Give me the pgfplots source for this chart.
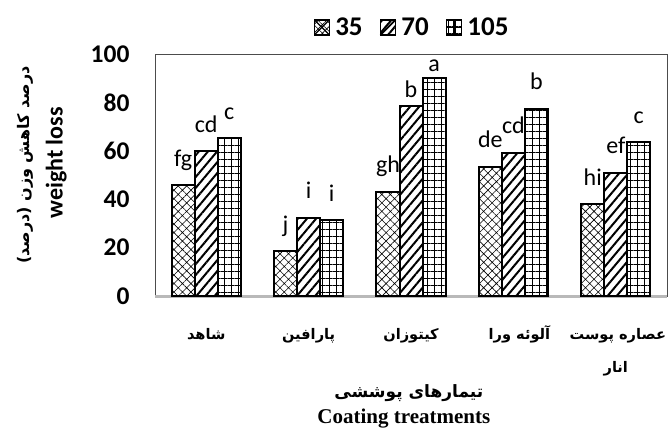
\documentclass[border=0pt]{standalone}
\usepackage{pgfplots}
\pgfplotsset{compat=1.18}
\usetikzlibrary{patterns.meta}
\usepackage{fontspec}
\setmainfont{Carlito}
\newfontfamily\arabicfont[Script=Arabic]{DejaVu Sans}
\newfontfamily\seriffont{Liberation Serif}
\TeXXeTstate=1
\newcommand{\st}{\rule{0pt}{17pt}}
\begin{document}
\begin{tikzpicture}
\useasboundingbox (0,0) rectangle (669pt,432pt);
\begin{axis}[
  at={(155pt,136pt)}, anchor=south west,
  scale only axis, width=512pt, height=242pt,
  clip=false,
  xmin=-0.5, xmax=4.5, ymin=0, ymax=100,
  ytick={0,20,...,100},
  xtick={0,1,2,3,4},
  xticklabels={
    {\st\hbox{\beginR شاهد\endR}},
    {\st\hbox{\beginR پارافین\endR}},
    {\st\hbox{\beginR کیتوزان\endR}},
    {\st\kern12pt\hbox{\beginR آلوئه ورا\endR}},
    {\begin{tabular}{@{}c@{}}\st\kern4pt\hbox{\beginR عصاره پوست\endR}\\[13pt]\hbox{\beginR انار\endR}\end{tabular}}},
  major tick length=0pt,
  axis line style={draw=black!70, line width=0.8pt},
  ybar=0pt, bar width=23pt,
  /pgf/number format/assume math mode=true,
  yticklabel style={font=\bfseries\fontsize{25.5}{25}\selectfont, anchor=east, xshift=-22pt},
  xticklabel style={font=\arabicfont\bfseries\fontsize{14.6}{20}\selectfont, anchor=north, inner sep=2pt, yshift=-24pt},
  xlabel={\seriffont\bfseries\fontsize{21}{22}\selectfont Coating treatments},
  xlabel style={at={(rel axis cs:0.486,-0.508)}, anchor=center},
  ylabel={\bfseries\fontsize{24}{24}\selectfont weight loss},
  ylabel style={at={(rel axis cs:-0.193,0.55)}, anchor=center},
  nodes near coords,
  point meta=explicit symbolic,
  nodes near coords style={font=\fontsize{24}{24}\selectfont, anchor=base, yshift=19pt, inner sep=1pt},
  legend style={at={(rel axis cs:0.505,1.11)}, anchor=center, legend columns=3, draw=none, fill=none,
    font=\bfseries\fontsize{27}{27}\selectfont, nodes={inner ysep=2pt, inner xsep=5pt},
    /tikz/every even column/.style={column sep=12pt}},
]
\draw[gray!55, line width=3pt] (rel axis cs:0,0) -- (rel axis cs:1,0);
\addplot[draw=black, line width=2pt, pattern={Hatch[angle=45,distance=6pt,line width=0.6pt]}, pattern color=black,
  legend image code/.code={\draw[line width=1.6pt] (0pt,-7.5pt) rectangle (15pt,7.5pt); \draw[line width=1.2pt] (0pt,-7.5pt)--(15pt,7.5pt) (0pt,7.5pt)--(15pt,-7.5pt);}]
  coordinates {(0,45.8)[fg] (1,18.5)[j] (2,43.0)[gh] (3,53.5)[de] (4,38.0)[hi]};
\addplot[draw=black, line width=2pt, pattern={Lines[angle=50,distance=7pt,line width=2pt]}, pattern color=black,
  legend image code/.code={\draw[line width=1.6pt] (0pt,-7.5pt) rectangle (15pt,7.5pt); \draw[line width=1.8pt] (0pt,-7.5pt)--(15pt,7.5pt);}]
  coordinates {(0,59.8)[cd] (1,32.3)[i] (2,78.4)[{}] (3,59.2)[cd] (4,50.9)[ef]};
\addplot[draw=black, line width=2pt, pattern={Hatch[angle=0,distance=7pt,line width=0.9pt]}, pattern color=black,
  legend image code/.code={\draw[line width=1.6pt] (0pt,-7.5pt) rectangle (15pt,7.5pt); \draw[line width=1.4pt] (7.5pt,-7.5pt)--(7.5pt,7.5pt) (0pt,0pt)--(15pt,0pt);}]
  coordinates {(0,65.2)[c] (1,31.3)[i] (2,90.2)[{}] (3,77.3)[b] (4,63.5)[c]};
\node[font=\fontsize{24}{24}\selectfont, anchor=base, inner sep=1pt] at (axis cs:2,82.0) {b};
\node[font=\fontsize{24}{24}\selectfont, anchor=base, inner sep=1pt, xshift=23pt] at (axis cs:2,92.8) {a};
\node[font=\arabicfont\bfseries\fontsize{17}{20}\selectfont, anchor=center] at (rel axis cs:0.486,-0.40) {\kern10pt\hbox{\beginR تیمارهای پوششی\endR}};
\node[font=\arabicfont\bfseries\fontsize{16}{18}\selectfont, anchor=center, rotate=90] at (rel axis cs:-0.254,0.541) {\beginR درصد کاهش وزن (درصد)\endR};
\legend{35,70,105}
\end{axis}
\end{tikzpicture}
\end{document}
